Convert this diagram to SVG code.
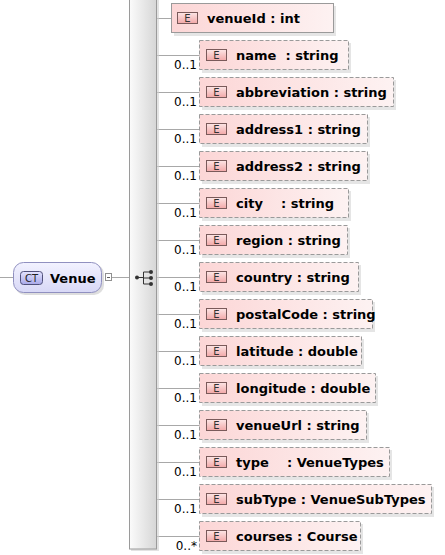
<svg xmlns="http://www.w3.org/2000/svg" width="445" height="555" viewBox="0 0 445 555">
<defs>
<linearGradient id="gEl" x1="0" y1="0" x2="1" y2="0">
<stop offset="0" stop-color="#fcd6d6"/>
<stop offset="1" stop-color="#fdf2f2"/>
</linearGradient>
<linearGradient id="gBadge" x1="0" y1="0" x2="0" y2="1">
<stop offset="0" stop-color="#fde6e6"/>
<stop offset="1" stop-color="#f2a8a8"/>
</linearGradient>
<linearGradient id="gBar" x1="0" y1="0" x2="1" y2="0">
<stop offset="0" stop-color="#fbfbfb"/>
<stop offset="1" stop-color="#d6d6d6"/>
</linearGradient>
<linearGradient id="gCT" x1="0" y1="0" x2="0" y2="1">
<stop offset="0" stop-color="#f2f2ff"/>
<stop offset="1" stop-color="#d8d8f6"/>
</linearGradient>
<linearGradient id="gCTb" x1="0" y1="0" x2="0" y2="1">
<stop offset="0" stop-color="#e4e4ff"/>
<stop offset="1" stop-color="#a8a8e8"/>
</linearGradient>
</defs>
<style>
.sh{fill:#d4d4d4;opacity:0.6}
.box{fill:url(#gEl);stroke:#9a9a9a;stroke-width:1}
.opt{stroke-dasharray:4 2}
.badge{fill:url(#gBadge);stroke:#7a5a5a;stroke-width:1}
.bt{font-family:"DejaVu Sans",Verdana,sans-serif;font-size:10px;fill:#333;text-anchor:middle}
.lbl{font-family:"DejaVu Sans",Verdana,sans-serif;font-size:13px;font-weight:bold;fill:#000;white-space:pre}
.mult{font-family:"DejaVu Sans",Tahoma,sans-serif;font-size:12px;fill:#000;text-anchor:end}
.ln{stroke:#a8a8a8;stroke-width:1;fill:none}
</style>

<g id="connectors">
<line class="ln" x1="0" y1="277.5" x2="13" y2="277.5"/>
<line class="ln" x1="112" y1="277.5" x2="129" y2="277.5"/>
<line class="ln" x1="157" y1="18.5" x2="172" y2="18.5"/>
<line class="ln" x1="157" y1="55.5" x2="200" y2="55.5"/>
<line class="ln" x1="157" y1="92.5" x2="200" y2="92.5"/>
<line class="ln" x1="157" y1="129.5" x2="200" y2="129.5"/>
<line class="ln" x1="157" y1="166.5" x2="200" y2="166.5"/>
<line class="ln" x1="157" y1="203.5" x2="200" y2="203.5"/>
<line class="ln" x1="157" y1="240.5" x2="200" y2="240.5"/>
<line class="ln" x1="157" y1="277.5" x2="200" y2="277.5"/>
<line class="ln" x1="157" y1="314.5" x2="200" y2="314.5"/>
<line class="ln" x1="157" y1="351.5" x2="200" y2="351.5"/>
<line class="ln" x1="157" y1="388.5" x2="200" y2="388.5"/>
<line class="ln" x1="157" y1="425.5" x2="200" y2="425.5"/>
<line class="ln" x1="157" y1="462.5" x2="200" y2="462.5"/>
<line class="ln" x1="157" y1="499.5" x2="200" y2="499.5"/>
<line class="ln" x1="157" y1="536.5" x2="200" y2="536.5"/>
<text class="mult" x="197" y="69">0..1</text>
<text class="mult" x="197" y="106">0..1</text>
<text class="mult" x="197" y="143">0..1</text>
<text class="mult" x="197" y="180">0..1</text>
<text class="mult" x="197" y="217">0..1</text>
<text class="mult" x="197" y="254">0..1</text>
<text class="mult" x="197" y="291">0..1</text>
<text class="mult" x="197" y="328">0..1</text>
<text class="mult" x="197" y="365">0..1</text>
<text class="mult" x="197" y="402">0..1</text>
<text class="mult" x="197" y="439">0..1</text>
<text class="mult" x="197" y="476">0..1</text>
<text class="mult" x="197" y="513">0..1</text>
<text class="mult" x="197" y="550">0..*</text>
</g>

<g id="Venue">
<rect x="15" y="264" width="89" height="31" rx="10" fill="#d0d0d0" opacity="0.7"/>
<rect x="13.5" y="262.5" width="88" height="30" rx="10" fill="url(#gCT)" stroke="#9090c0"/>
<rect x="20.5" y="271.5" width="22" height="13" rx="3" fill="url(#gCTb)" stroke="#50507a"/>
<text x="31.5" y="282" font-family="DejaVu Sans,Verdana,sans-serif" font-size="10px" fill="#222" text-anchor="middle">CT</text>
<text class="lbl" x="50" y="283" font-size="14px">Venue</text>
<rect x="105.5" y="273.5" width="6" height="7" fill="#fff" stroke="#909090"/>
<line x1="107" y1="277.5" x2="110" y2="277.5" stroke="#606060"/>
</g>

<g id="sequence">
<rect x="131" y="-2" width="28" height="553" fill="#d0d0d0" opacity="0.6"/>
<rect x="129.5" y="-3" width="27" height="552" fill="url(#gBar)" stroke="#9a9a9a"/>
<circle cx="137" cy="277.5" r="2" fill="#333"/>
<line x1="137" y1="277.5" x2="143.5" y2="277.5" stroke="#333"/>
<line x1="143.5" y1="272" x2="143.5" y2="284" stroke="#333"/>
<line x1="143.5" y1="272" x2="151" y2="272" stroke="#333"/>
<line x1="143.5" y1="278" x2="151" y2="278" stroke="#333"/>
<line x1="143.5" y1="284" x2="151" y2="284" stroke="#333"/>
<circle cx="151" cy="272" r="2" fill="#333"/>
<circle cx="151" cy="278" r="2" fill="#333"/>
<circle cx="151" cy="284" r="2" fill="#333"/>
</g>

<g id="venueId">
<rect class="sh" x="174" y="6" width="162" height="30"/>
<rect class="box" x="171.5" y="3.5" width="162" height="29"/>
<rect class="badge" x="177.5" y="12.5" width="20" height="11"/>
<text class="bt" x="187.5" y="21.5">E</text>
<text class="lbl" x="207" y="23">venueId : int</text>
</g>

<g id="name">
<rect class="sh" x="202" y="43" width="149" height="30"/>
<rect class="box opt" x="199.5" y="40.5" width="149" height="29"/>
<rect class="badge" x="206.5" y="49.5" width="20" height="11"/>
<text class="bt" x="216.5" y="58.5">E</text>
<text class="lbl" x="236" y="60">name  : string</text>
</g>

<g id="abbreviation">
<rect class="sh" x="202" y="80" width="194" height="30"/>
<rect class="box opt" x="199.5" y="77.5" width="194" height="29"/>
<rect class="badge" x="206.5" y="86.5" width="20" height="11"/>
<text class="bt" x="216.5" y="95.5">E</text>
<text class="lbl" x="236" y="97">abbreviation : string</text>
</g>

<g id="address1">
<rect class="sh" x="202" y="117" width="168" height="30"/>
<rect class="box opt" x="199.5" y="114.5" width="168" height="29"/>
<rect class="badge" x="206.5" y="123.5" width="20" height="11"/>
<text class="bt" x="216.5" y="132.5">E</text>
<text class="lbl" x="236" y="134">address1 : string</text>
</g>

<g id="address2">
<rect class="sh" x="202" y="154" width="168" height="30"/>
<rect class="box opt" x="199.5" y="151.5" width="168" height="29"/>
<rect class="badge" x="206.5" y="160.5" width="20" height="11"/>
<text class="bt" x="216.5" y="169.5">E</text>
<text class="lbl" x="236" y="171">address2 : string</text>
</g>

<g id="city">
<rect class="sh" x="202" y="191" width="149" height="30"/>
<rect class="box opt" x="199.5" y="188.5" width="149" height="29"/>
<rect class="badge" x="206.5" y="197.5" width="20" height="11"/>
<text class="bt" x="216.5" y="206.5">E</text>
<text class="lbl" x="236" y="208">city    : string</text>
</g>

<g id="region">
<rect class="sh" x="202" y="228" width="148" height="30"/>
<rect class="box opt" x="199.5" y="225.5" width="148" height="29"/>
<rect class="badge" x="206.5" y="234.5" width="20" height="11"/>
<text class="bt" x="216.5" y="243.5">E</text>
<text class="lbl" x="236" y="245">region : string</text>
</g>

<g id="country">
<rect class="sh" x="202" y="265" width="159" height="30"/>
<rect class="box opt" x="199.5" y="262.5" width="159" height="29"/>
<rect class="badge" x="206.5" y="271.5" width="20" height="11"/>
<text class="bt" x="216.5" y="280.5">E</text>
<text class="lbl" x="236" y="282">country : string</text>
</g>

<g id="postalCode">
<rect class="sh" x="202" y="302" width="173" height="30"/>
<rect class="box opt" x="199.5" y="299.5" width="173" height="29"/>
<rect class="badge" x="206.5" y="308.5" width="20" height="11"/>
<text class="bt" x="216.5" y="317.5">E</text>
<text class="lbl" x="236" y="319">postalCode : string</text>
</g>

<g id="latitude">
<rect class="sh" x="202" y="339" width="162" height="30"/>
<rect class="box opt" x="199.5" y="336.5" width="162" height="29"/>
<rect class="badge" x="206.5" y="345.5" width="20" height="11"/>
<text class="bt" x="216.5" y="354.5">E</text>
<text class="lbl" x="236" y="356">latitude : double</text>
</g>

<g id="longitude">
<rect class="sh" x="202" y="376" width="176" height="30"/>
<rect class="box opt" x="199.5" y="373.5" width="176" height="29"/>
<rect class="badge" x="206.5" y="382.5" width="20" height="11"/>
<text class="bt" x="216.5" y="391.5">E</text>
<text class="lbl" x="236" y="393">longitude : double</text>
</g>

<g id="venueUrl">
<rect class="sh" x="202" y="413" width="167" height="30"/>
<rect class="box opt" x="199.5" y="410.5" width="167" height="29"/>
<rect class="badge" x="206.5" y="419.5" width="20" height="11"/>
<text class="bt" x="216.5" y="428.5">E</text>
<text class="lbl" x="236" y="430">venueUrl : string</text>
</g>

<g id="type">
<rect class="sh" x="202" y="450" width="190" height="30"/>
<rect class="box opt" x="199.5" y="447.5" width="190" height="29"/>
<rect class="badge" x="206.5" y="456.5" width="20" height="11"/>
<text class="bt" x="216.5" y="465.5">E</text>
<text class="lbl" x="236" y="467">type    : VenueTypes</text>
</g>

<g id="subType">
<rect class="sh" x="202" y="487" width="232" height="30"/>
<rect class="box opt" x="199.5" y="484.5" width="232" height="29"/>
<rect class="badge" x="206.5" y="493.5" width="20" height="11"/>
<text class="bt" x="216.5" y="502.5">E</text>
<text class="lbl" x="236" y="504">subType : VenueSubTypes</text>
</g>

<g id="courses">
<rect class="sh" x="202" y="524" width="161" height="30"/>
<rect class="box opt" x="199.5" y="521.5" width="161" height="29"/>
<rect class="badge" x="206.5" y="530.5" width="20" height="11"/>
<text class="bt" x="216.5" y="539.5">E</text>
<text class="lbl" x="236" y="541">courses : Course</text>
</g>
</svg>
